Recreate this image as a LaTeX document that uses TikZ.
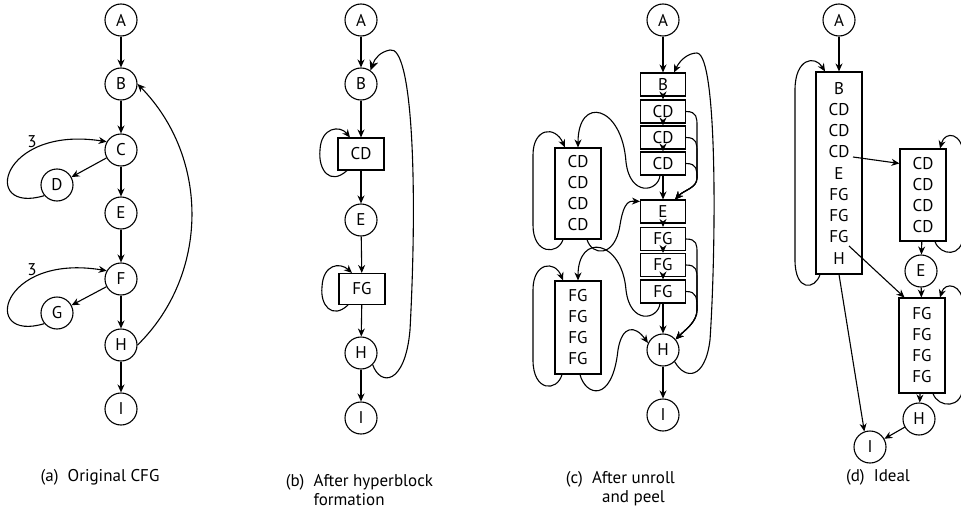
\documentclass[tikz,border=0pt]{standalone}
\usepackage{fontspec}
\setmainfont{PT Sans}
\usetikzlibrary{arrows.meta,calc}
\begin{document}
\begin{tikzpicture}[x=1pt,y=-1pt,
    font=\fontsize{17}{19}\selectfont,
    line width=1.1pt,
    >={Stealth[length=8pt,width=7pt]},
    state/.style={shape=circle,draw,minimum size=32pt,inner sep=0pt},
    block/.style={shape=rectangle,draw,inner sep=0pt,minimum width=46pt,minimum height=23pt},
    bigblock/.style={block,align=center,font=\fontsize{17}{21}\selectfont}]
\useasboundingbox (0,0) rectangle (961,511);
%%%% (a) Original CFG
    \node[state] (aA) at (121,20) {A};
    \node[state] (aB) at (121,84) {B};
    \node[state] (aC) at (121,150) {C};
    \node[state] (aD) at (57,185) {D};
    \node[state] (aE) at (121,213) {E};
    \node[state] (aF) at (121,279) {F};
    \node[state] (aG) at (57,313) {G};
    \node[state] (aH) at (121,345) {H};
    \node[state] (aI) at (121,409) {I};
    \draw[->] (aA) -- (aB);
    \draw[->] (aB) -- (aC);
    \draw[->] (aC) -- (aE);
    \draw[->] (aE) -- (aF);
    \draw[->] (aF) -- (aH);
    \draw[->] (aH) -- (aI);
    \draw[->] (aC) -- (aD);
    \draw[->] (aF) -- (aG);
%%%% inner loops with trip count
    \draw[->] (aD.220) .. controls (-20,215) and (0,125) .. (aC.150);
    \draw[->] (aG.220) .. controls (-20,343) and (0,253) .. (aF.150);
    \node (ac3) at (32,142) {3};
    \node (af3) at (32,270) {3};
%%%% outer loop
    \draw[->] (aH.east) .. controls (209,275) and (210,158) .. (aB.east);
    \node (capa) at (100,477) {(a)\ \ Original CFG};
%%%% (b) After hyperblock formation
    \node[state] (bA) at (361,20) {A};
    \node[state] (bB) at (361,84) {B};
    \node[block,minimum height=32pt] (bCD) at (361,154) {CD};
    \node[state] (bE) at (361,220) {E};
    \node[block,minimum height=31pt] (bFG) at (362,289) {FG};
    \node[state] (bH) at (361,353) {H};
    \node[state] (bI) at (361,418) {I};
    \draw[->] (bA) -- (bB);
    \draw[->] (bB) -- (bCD);
    \draw[->] (bCD) -- (bE);
    \draw[->] (bE) -- (bFG);
    \draw[->] (bFG) -- (bH);
    \draw[->] (bH) -- (bI);
    \draw[->] ($(bCD.south)+(-14,0)$) .. controls (330,186) and (318,170) .. (320,150)
        .. controls (321,127) and (340,125) .. ($(bCD.north)+(-11,0)$);
    \draw[->] ($(bFG.south)+(-14,0)$) .. controls (332,320) and (320,305) .. (322,287)
        .. controls (323,264) and (340,262) .. ($(bFG.north)+(-10,0)$);
    \draw[-{Stealth[length=10pt,width=9pt]}] (bH.-45) .. controls (380,386) and (405,386) .. (410,330)
        .. controls (418,180) and (412,45) .. (390,50)
        .. controls (380,52) and (375,58) .. (bB.55);
    \node[anchor=base west] (capb) at (282,486)
        {(b)\ \ \begin{tabular}[t]{@{}l@{}}After hyperblock\\formation\end{tabular}};
%%%% (c) After unroll and peel
    \node[state] (cA) at (663,20) {A};
    \node[block,minimum width=45pt] (cB) at (663,84.5) {B};
    \node[block,minimum width=45pt] (cCD1) at (663,111.5) {CD};
    \node[block,minimum width=45pt] (cCD2) at (663,137.5) {CD};
    \node[block,minimum width=45pt] (cCD3) at (663,163.5) {CD};
    \node[block,minimum width=45pt] (cE) at (663,211.5) {E};
    \node[block,minimum width=45pt] (cFG1) at (663,239) {FG};
    \node[block,minimum width=45pt] (cFG2) at (663,265) {FG};
    \node[block,minimum width=45pt] (cFG3) at (663,291.5) {FG};
    \node[state] (cH) at (663,350) {H};
    \node[state] (cI) at (663,415) {I};
    \node[bigblock,minimum height=91pt] (cCDL) at (578,193.5) {CD\\CD\\CD\\CD};
    \node[bigblock,minimum height=93pt] (cFGL) at (578,327.5) {FG\\FG\\FG\\FG};
    \draw[->] (cA) -- (cB);
    \draw[->] (cB) -- (cCD1);
    \draw[->] (cCD1) -- (cCD2);
    \draw[->] (cCD2) -- (cCD3);
    \draw[->] (cCD3) -- (cE);
    \draw[->] (cE) -- (cFG1);
    \draw[->] (cFG1) -- (cFG2);
    \draw[->] (cFG2) -- (cFG3);
    \draw[->] (cFG3) -- (cH);
    \draw[->] (cH) -- (cI);
%%%% early exits of the unrolled copies
    \draw[->] (cCD1.east) .. controls (697,111.5) and (697,118) .. (697,126) -- (697,178)
        .. controls (697,188) and (684,190) .. ($(cE.north east)+(-11,0)$);
    \draw[->] (cCD2.east) .. controls (697,137.5) and (697,144) .. (697,152) -- (697,178)
        .. controls (697,188) and (684,190) .. ($(cE.north east)+(-11,0)$);
    \draw[->] (cCD3.east) .. controls (697,163.5) and (697,170) .. (697,178)
        .. controls (697,188) and (684,190) .. ($(cE.north east)+(-11,0)$);
    \draw[->] (cFG1.east) .. controls (697,239) and (697,245) .. (697,253) -- (697,310)
        .. controls (697,322) and (685,330) .. (cH.40);
    \draw[->] (cFG2.east) .. controls (697,265) and (697,271) .. (697,279) -- (697,310)
        .. controls (697,322) and (685,330) .. (cH.40);
    \draw[->] (cFG3.east) .. controls (697,291.5) and (697,298) .. (697,310)
        .. controls (697,322) and (685,330) .. (cH.40);
%%%% into the remaining loops
    \draw[->] ($(cCD3.south)+(-3,0)$) .. controls (658,192) and (630,197) .. (626,162)
        .. controls (622,105) and (578,95) .. (cCDL.north);
    \draw[->] ($(cFG3.south)+(-3,0)$) .. controls (658,320) and (630,325) .. (626,290)
        .. controls (622,240) and (578,232) .. (cFGL.north);
    \draw[->] ($(cCDL.south)+(-15,0)$) .. controls (558,255) and (533,255) .. (533,225) -- (533,155)
        .. controls (533,128) and (555,125) .. ($(cCDL.north)+(-13,0)$);
    \draw[->] ($(cFGL.south)+(-16,0)$) .. controls (557,392) and (533,392) .. (533,360) -- (533,290)
        .. controls (533,262) and (555,260) .. ($(cFGL.north)+(-15,0)$);
    \draw[->] ($(cCDL.south)+(9,0)$) .. controls (592,256) and (615,258) .. (620,225)
        .. controls (624,200) and (630,201) .. ($(cE.north west)+(0,2)$);
    \draw[->] ($(cFGL.south)+(2,0)$) .. controls (585,395) and (612,405) .. (618,350)
        .. controls (622,325) and (635,325) .. (cH.155);
%%%% outer loop
    \draw[->] (cH.-45) .. controls (685,380) and (705,380) .. (710,340)
        .. controls (716,250) and (718,55) .. (697,53)
        .. controls (688,53) and (680,60) .. ($(cB.north)+(11,0)$);
    \node[anchor=base west] (capc) at (562,483)
        {(c)\ \ \begin{tabular}[t]{@{}c@{}}After unroll\\and peel\end{tabular}};
%%%% (d) Ideal
    \node[state] (dA) at (839,20) {A};
    \node[bigblock,minimum height=202pt,font=\fontsize{17}{21.25}\selectfont] (dM) at (839,173)
        {B\\CD\\CD\\CD\\E\\FG\\FG\\FG\\H};
    \coordinate (dMcd) at (853,157);
    \coordinate (dMfg) at (849,246);
    \node[bigblock,minimum height=92pt] (dCD) at (923,195) {CD\\CD\\CD\\CD};
    \node[state] (dE) at (921,271) {E};
    \node[bigblock,minimum height=95pt] (dFG) at (922,345.5) {FG\\FG\\FG\\FG};
    \node[state] (dH) at (919,419) {H};
    \node[state] (dI) at (870,447) {I};
    \draw[->] (dA) -- (dM);
    \draw[->] (dMcd) -- ($(dCD.north west)+(0,15)$);
    \draw[->] (dMfg) -- ($(dFG.north west)+(6,0)$);
    \draw[->] (dM.south) -- (dI.110);
    \draw[->] (dCD) -- (dE);
    \draw[->] (dE) -- (dFG);
    \draw[->] (dFG) -- (dH);
    \draw[->] (dH) -- (dI);
    \draw[->] ($(dM.south)+(-19,0)$) .. controls (815,290) and (795,292) .. (795,260) -- (795,90)
        .. controls (795,58) and (815,55) .. ($(dM.north)+(-14,0)$);
    \draw[->] ($(dCD.south)+(12,0)$) .. controls (940,256) and (963,258) .. (963,235) -- (963,155)
        .. controls (963,133) and (945,130) .. ($(dCD.north)+(17,0)$);
    \draw[->] ($(dFG.south)+(11,0)$) .. controls (938,408) and (963,410) .. (963,385) -- (963,305)
        .. controls (963,284) and (945,281) .. ($(dFG.north)+(18,0)$);
    \node (capd) at (878,477) {(d)\ \ Ideal};
\end{tikzpicture}
\end{document}
